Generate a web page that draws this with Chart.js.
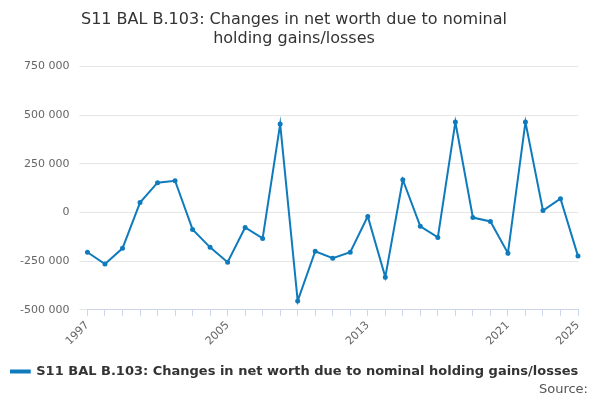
<!DOCTYPE html>
<html><head><meta charset="utf-8">
<script src="https://cdn.jsdelivr.net/npm/chart.js@4"></script>
<style>body{margin:0;background:#fff}#w{position:relative;width:600px;height:400px}
#src{position:absolute;right:12px;bottom:4px;font:13px "DejaVu Sans",sans-serif;color:#555}</style>
</head><body><div id="w"><canvas id="c" width="600" height="400"></canvas><div id="src">Source:</div></div>
<script>
const years=[];for(let y=1997;y<=2025;y++)years.push(String(y));
const values=[-204000,-265000,-184000,51000,153000,163000,-87000,-179000,-255000,-77000,-133000,454000,-454000,-199000,-235000,-204000,-20000,-332000,168000,-71000,-128000,464000,-26000,-46000,-209000,464000,10000,71000,-224000];
const shownLabels=["1997","2005","2013","2021","2025"];
const seriesName="S11 BAL B.103: Changes in net worth due to nominal holding gains/losses";
new Chart(document.getElementById('c'),{type:'line',
data:{labels:years,datasets:[{label:seriesName,data:values,borderColor:'#0f7bbd',backgroundColor:'#0f7bbd',borderWidth:2,pointRadius:1.5,tension:0}]},
options:{responsive:false,animation:false,
layout:{padding:{left:10,right:22,bottom:12}},
plugins:{title:{display:true,text:['S11 BAL B.103: Changes in net worth due to nominal','holding gains/losses'],font:{family:'DejaVu Sans',size:16,weight:'normal'},color:'#333',padding:{top:10,bottom:18}},
legend:{position:'bottom',labels:{font:{family:'DejaVu Sans',size:13,weight:'bold'},color:'#333',boxWidth:20,boxHeight:2,padding:14}}},
scales:{x:{offset:false,grid:{display:true,drawOnChartArea:false,tickLength:6,color:'#ccd6eb'},border:{color:'#ccd6eb'},
ticks:{autoSkip:false,maxRotation:45,minRotation:45,font:{family:'DejaVu Sans',size:11},color:'#666',callback:function(v,i){return shownLabels.includes(years[i])?years[i]:'';}}},
y:{min:-500000,max:750000,ticks:{stepSize:250000,padding:10,font:{family:'DejaVu Sans',size:11},color:'#666',callback:v=>v.toLocaleString('en-US').replace(/,/g,' ')},grid:{color:'#e6e6e6'},border:{display:false}}}}});
</script></body></html>
